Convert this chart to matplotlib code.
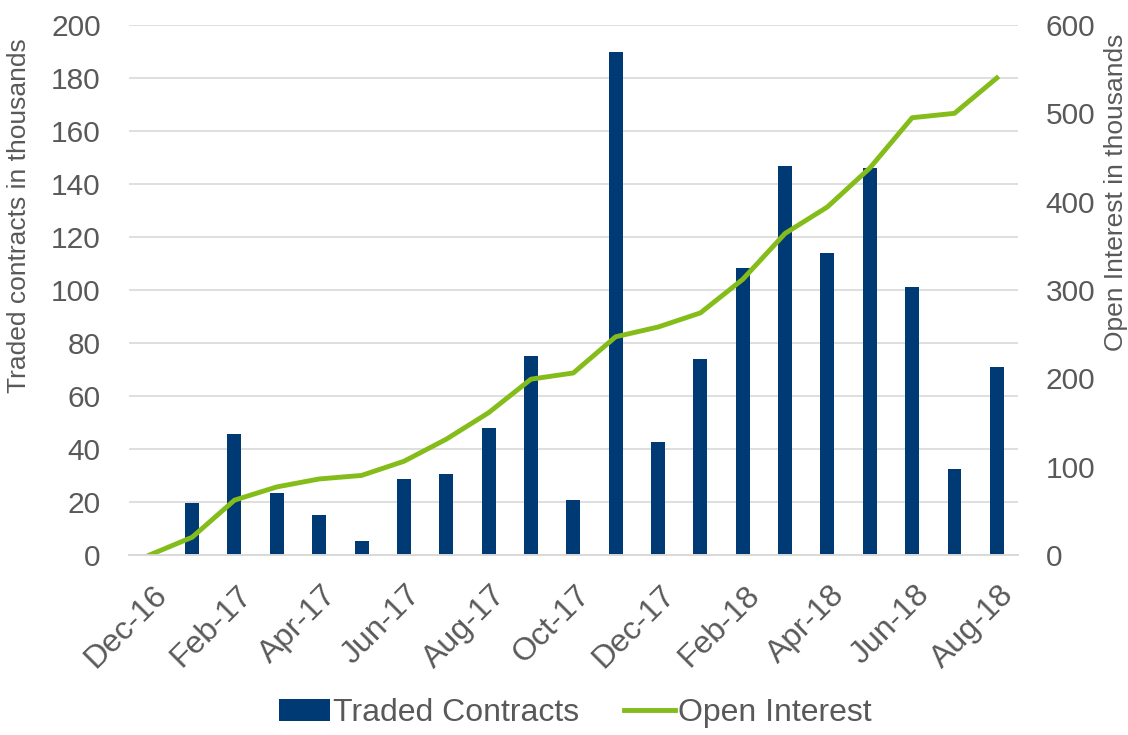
"""Traded contracts (bars) and open interest (line), Dec-16 to Aug-18."""

import matplotlib

matplotlib.use("Agg")
import matplotlib.pyplot as plt
import numpy as np
from matplotlib.transforms import ScaledTranslation

months = [
    "Dec-16", "Jan-17", "Feb-17", "Mar-17", "Apr-17", "May-17", "Jun-17",
    "Jul-17", "Aug-17", "Sep-17", "Oct-17", "Nov-17", "Dec-17", "Jan-18",
    "Feb-18", "Mar-18", "Apr-18", "May-18", "Jun-18", "Jul-18", "Aug-18",
]
traded_contracts = [
    0.5, 19.6, 45.6, 23.4, 15.0, 5.2, 28.7, 30.6, 48.0, 75.2, 20.8,
    189.8, 42.6, 73.8, 108.2, 146.8, 114.0, 146.0, 101.0, 32.4, 71.0,
]
open_interest = [
    0, 20, 62, 77, 86, 90, 106, 131, 161, 199, 206,
    247, 258, 274, 312, 364, 394, 438, 495, 500, 540,
]

BAR_COLOR = "#003A75"
LINE_COLOR = "#84BC1A"
TEXT_COLOR = "#595959"
GRID_COLOR = "#D9D9D9"

plt.rcParams["font.family"] = ["Liberation Sans", "DejaVu Sans"]

fig = plt.figure(figsize=(11.28, 7.35), dpi=100)
ax = fig.add_axes([0.114, 0.245, 0.7885, 0.721])
ax2 = ax.twinx()

x = np.arange(len(months))
bars = ax.bar(x, traded_contracts, width=0.33, color=BAR_COLOR,
              label="Traded Contracts", zorder=2)
(line,) = ax2.plot(x, open_interest, color=LINE_COLOR, linewidth=3.5,
                   label="Open Interest", solid_joinstyle="round")

ax.set_xlim(-0.5, len(months) - 0.5)
ax.set_ylim(0, 200)
ax.set_yticks(np.arange(0, 201, 20))
ax2.set_ylim(0, 600)
ax2.set_yticks(np.arange(0, 601, 100))

ax.set_xticks(x[::2])
ax.set_xticklabels(months[::2], rotation=45, ha="right",
                   rotation_mode="anchor")

ax.grid(axis="y", color=GRID_COLOR, linewidth=1.2, zorder=0)
ax.set_axisbelow(True)

for a in (ax, ax2):
    for side in ("top", "left", "right"):
        a.spines[side].set_visible(False)
    a.spines["bottom"].set_color(GRID_COLOR)
    a.spines["bottom"].set_linewidth(1.2)
    a.tick_params(length=0, labelsize=21.5, colors=TEXT_COLOR)
ax.tick_params(axis="x", pad=18, labelsize=23)
ax.tick_params(axis="y", pad=20)
ax2.tick_params(axis="y", pad=20)

# nudge the rotated month labels so they end just right of their tick
shift = ScaledTranslation(2 / 100, 0, fig.dpi_scale_trans)
for lab in ax.get_xticklabels():
    lab.set_transform(lab.get_transform() + shift)

ax.set_ylabel("Traded contracts in thousands", fontsize=19,
              color=TEXT_COLOR)
ax.yaxis.set_label_coords(-0.11, 0.64)
ax2.set_ylabel("Open Interest in thousands", fontsize=19,
               color=TEXT_COLOR, rotation=90)
ax2.yaxis.set_label_coords(1.097, 0.685)

fig.legend(
    [bars, line], ["Traded Contracts", "Open Interest"],
    loc="lower center", bbox_to_anchor=(0.51, -0.03), ncol=2,
    frameon=False, fontsize=23, labelcolor=TEXT_COLOR, handlelength=1.6,
    handletextpad=0.1, columnspacing=1.4,
)

fig.savefig("out.png", dpi=100)
